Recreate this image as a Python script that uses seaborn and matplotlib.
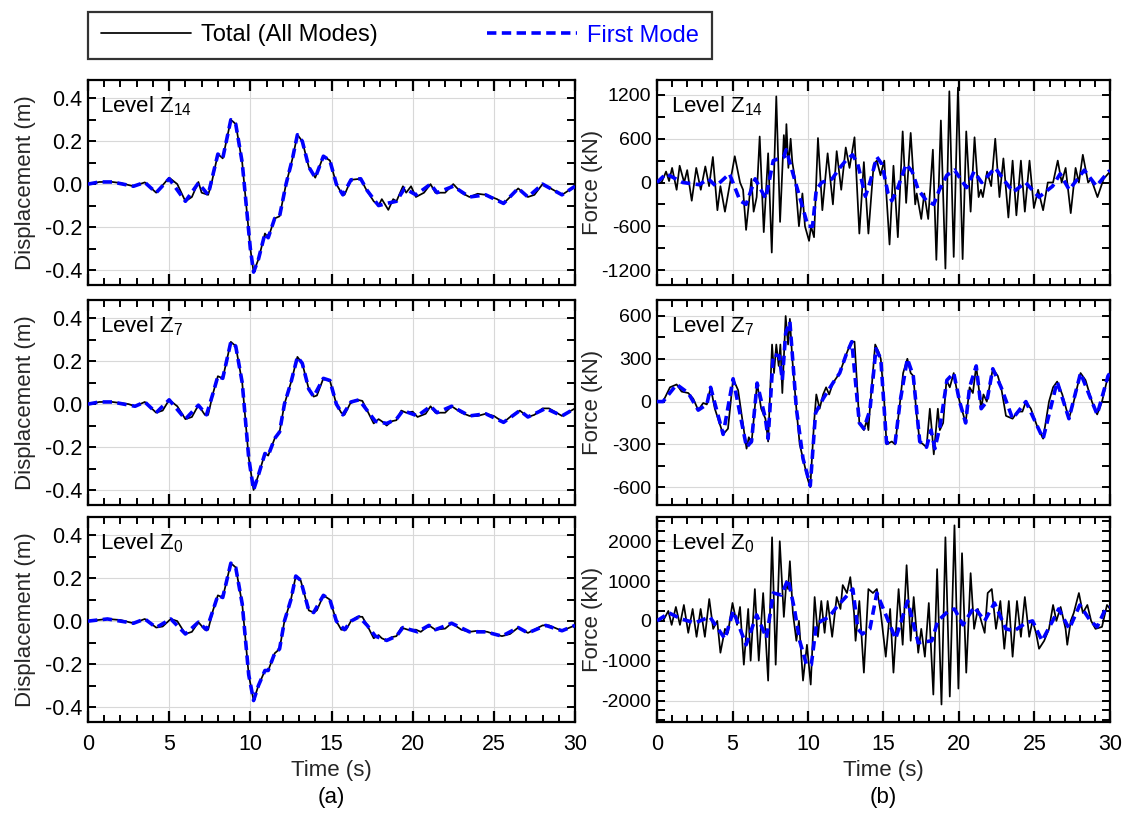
import numpy as np
import pandas as pd
import matplotlib
matplotlib.use("Agg")
import matplotlib.pyplot as plt
from matplotlib.ticker import MultipleLocator, FixedLocator
from matplotlib.lines import Line2D
import seaborn as sns

# ---------------- data: displacement (m) ----------------
t_d_z14 = [0, 0.7, 1.5, 2.0, 2.8, 3.5, 4.2, 5.0, 5.5, 6.0, 6.4, 6.8, 7.0, 7.4, 7.6, 8.0, 8.3, 8.8, 9.1, 9.5,
           10.0, 10.2, 10.5, 10.9, 11.1, 11.5, 11.8, 12.2, 12.6, 12.9, 13.2, 13.6, 14.0, 14.5, 14.9, 15.3,
           15.6, 15.8, 16.2, 16.8, 17.1, 17.6, 17.9, 18.1, 18.5, 18.8, 19.0, 19.4, 19.6, 19.9, 20.2, 20.7,
           21.1, 21.4, 22.0, 22.5, 23.0, 23.5, 24.0, 24.5, 25.2, 25.6, 26.0, 26.5, 27.1, 27.5, 28.0, 28.5,
           29.2, 30.0]
d_tot_z14 = [0, 0.01, 0.01, 0.005, -0.01, 0.008, -0.04, 0.03, 0.0, -0.08, -0.06, 0.01, -0.04, -0.05, 0.0,
             0.14, 0.12, 0.30, 0.28, 0.10, -0.30, -0.41, -0.35, -0.23, -0.25, -0.16, -0.15, 0.0, 0.12, 0.23,
             0.20, 0.08, 0.03, 0.13, 0.11, 0.0, -0.04, -0.05, 0.02, 0.025, -0.02, -0.08, -0.10, -0.07, -0.12,
             -0.07, -0.08, -0.01, -0.04, -0.01, -0.06, -0.04, 0.0, -0.04, -0.04, 0.0, -0.04, -0.06, -0.045,
             -0.05, -0.07, -0.09, -0.06, -0.02, -0.06, -0.05, 0.0, -0.02, -0.05, -0.01]
t_d1_z14 = [0, 0.7, 1.5, 2.8, 3.5, 4.2, 5.0, 6.0, 6.8, 7.4, 8.0, 8.3, 8.8, 9.1, 9.5, 10.0, 10.2, 10.5, 10.9,
            11.1, 11.5, 11.8, 12.2, 12.6, 12.9, 13.2, 13.6, 14.0, 14.5, 14.9, 15.3, 15.7, 16.2, 16.8, 17.2,
            17.9, 18.4, 19.0, 19.5, 20.2, 21.1, 21.5, 22.5, 23.5, 24.5, 25.6, 26.5, 27.1, 28.0, 29.2, 30.0]
d_1st_z14 = [0, 0.01, 0.01, -0.01, 0.008, -0.04, 0.025, -0.08, 0.005, -0.05, 0.14, 0.12, 0.30, 0.28, 0.10,
             -0.30, -0.41, -0.35, -0.23, -0.25, -0.16, -0.15, 0.0, 0.12, 0.23, 0.20, 0.08, 0.03, 0.13, 0.11,
             0.0, -0.05, 0.02, 0.025, -0.03, -0.10, -0.09, -0.08, -0.02, -0.05, 0.0, -0.04, -0.01, -0.06,
             -0.05, -0.09, -0.02, -0.06, 0.0, -0.05, -0.01]

t_d_z7 = [0, 0.7, 1.5, 2.5, 2.9, 3.5, 4.2, 4.6, 5.0, 5.5, 6.0, 6.4, 6.8, 7.2, 7.4, 7.7, 8.0, 8.3, 8.8, 9.1,
          9.5, 9.9, 10.2, 10.5, 10.9, 11.1, 11.5, 11.8, 12.1, 12.5, 12.9, 13.2, 13.6, 13.9, 14.1, 14.5, 14.9,
          15.3, 15.6, 15.8, 16.2, 16.6, 16.9, 17.2, 17.6, 17.9, 18.1, 18.4, 18.7, 19.0, 19.3, 19.6, 20.0,
          20.3, 20.8, 21.1, 21.4, 22.0, 22.4, 23.0, 23.5, 24.0, 24.5, 25.0, 25.6, 26.0, 26.6, 27.1, 27.5,
          28.0, 28.4, 29.2, 30.0]
d_tot_z7 = [0, 0.01, 0.01, 0.0, -0.01, 0.01, -0.04, -0.03, 0.02, -0.01, -0.07, -0.06, -0.005, -0.05, -0.05,
            0.05, 0.13, 0.12, 0.29, 0.27, 0.10, -0.25, -0.40, -0.33, -0.23, -0.24, -0.16, -0.13, 0.0, 0.10,
            0.22, 0.19, 0.07, 0.035, 0.04, 0.12, 0.11, 0.0, -0.04, -0.05, 0.01, 0.02, 0.015, -0.03, -0.09,
            -0.07, -0.08, -0.10, -0.08, -0.075, -0.03, -0.04, -0.035, -0.06, -0.045, -0.01, -0.04, -0.04,
            -0.01, -0.04, -0.055, -0.055, -0.045, -0.055, -0.085, -0.06, -0.03, -0.06, -0.05, -0.02, -0.02,
            -0.055, -0.02]
t_d1_z7 = [0, 0.7, 1.5, 2.9, 3.5, 4.2, 5.0, 6.0, 6.8, 7.3, 7.7, 8.0, 8.3, 8.8, 9.1, 9.5, 9.9, 10.2, 10.5,
           10.9, 11.1, 11.5, 11.8, 12.1, 12.5, 12.9, 13.2, 13.6, 13.9, 14.5, 14.9, 15.3, 15.7, 16.2, 16.7,
           17.2, 17.7, 18.4, 19.0, 19.4, 20.3, 21.1, 21.5, 22.4, 23.5, 24.5, 25.6, 26.6, 27.1, 28.2, 29.2,
           30.0]
d_1st_z7 = [0, 0.01, 0.01, -0.01, 0.01, -0.04, 0.02, -0.07, -0.005, -0.05, 0.05, 0.13, 0.12, 0.29, 0.27,
            0.10, -0.25, -0.40, -0.33, -0.23, -0.24, -0.16, -0.13, 0.0, 0.10, 0.22, 0.19, 0.07, 0.035, 0.12,
            0.11, 0.0, -0.05, 0.01, 0.02, -0.03, -0.08, -0.09, -0.07, -0.03, -0.055, -0.01, -0.04, -0.01,
            -0.055, -0.045, -0.085, -0.03, -0.06, -0.02, -0.055, -0.02]

t_d_z0 = [0, 1.2, 2.0, 2.8, 3.5, 4.2, 4.6, 5.1, 5.5, 6.0, 6.4, 6.8, 7.2, 7.4, 7.7, 8.0, 8.3, 8.8, 9.1, 9.5,
          9.9, 10.2, 10.5, 10.9, 11.1, 11.5, 11.8, 12.1, 12.5, 12.8, 13.1, 13.6, 13.9, 14.1, 14.5, 14.9,
          15.3, 15.6, 15.9, 16.2, 16.6, 16.9, 17.2, 17.6, 17.9, 18.1, 18.4, 18.7, 19.0, 19.3, 19.7, 20.2,
          20.5, 21.0, 21.4, 22.0, 22.4, 23.0, 23.5, 24.0, 24.6, 25.0, 25.5, 26.0, 26.5, 27.1, 27.5, 28.0,
          28.4, 29.2, 30.0]
d_tot_z0 = [0, 0.01, 0.005, -0.01, 0.01, -0.03, -0.025, 0.01, 0.0, -0.06, -0.05, -0.005, -0.04, -0.04,
            0.05, 0.12, 0.11, 0.27, 0.25, 0.08, -0.25, -0.37, -0.30, -0.23, -0.23, -0.15, -0.13, 0.0, 0.10,
            0.21, 0.19, 0.05, 0.04, 0.05, 0.12, 0.10, 0.0, -0.04, -0.04, 0.0, 0.02, 0.02, -0.02, -0.08,
            -0.065, -0.08, -0.09, -0.075, -0.07, -0.03, -0.04, -0.04, -0.05, -0.02, -0.04, -0.035, -0.01,
            -0.04, -0.05, -0.045, -0.05, -0.06, -0.07, -0.06, -0.03, -0.055, -0.04, -0.02, -0.02, -0.045,
            -0.02]
t_d1_z0 = [0, 1.2, 2.8, 3.5, 4.2, 5.1, 6.0, 6.8, 7.3, 7.7, 8.0, 8.3, 8.8, 9.1, 9.5, 9.9, 10.2, 10.5, 10.9,
           11.1, 11.5, 11.8, 12.1, 12.5, 12.8, 13.1, 13.6, 13.9, 14.5, 14.9, 15.3, 15.8, 16.2, 16.7, 17.2,
           17.7, 18.4, 19.0, 19.4, 20.3, 21.0, 21.4, 22.4, 23.5, 24.5, 25.5, 26.5, 27.1, 28.2, 29.2, 30.0]
d_1st_z0 = [0, 0.01, -0.01, 0.01, -0.03, 0.01, -0.06, -0.005, -0.04, 0.05, 0.12, 0.11, 0.27, 0.25, 0.08,
            -0.25, -0.37, -0.30, -0.23, -0.23, -0.15, -0.13, 0.0, 0.10, 0.21, 0.19, 0.05, 0.04, 0.12, 0.10,
            0.0, -0.04, 0.0, 0.02, -0.02, -0.07, -0.09, -0.07, -0.03, -0.05, -0.02, -0.04, -0.01, -0.05,
            -0.05, -0.07, -0.03, -0.055, -0.02, -0.045, -0.02]

# ---------------- data: storey force (kN) ----------------
t_f_z14 = [0, 0.3, 0.6, 0.8, 1.0, 1.3, 1.5, 1.8, 2.0, 2.3, 2.6, 2.9, 3.2, 3.45, 3.7, 4.0, 4.2, 4.5, 5.15,
           5.5, 5.7, 5.9, 6.25, 6.4, 6.6, 6.8, 7.07, 7.36, 7.6, 7.9, 8.15, 8.4, 8.5, 8.57, 8.7, 8.85, 8.96,
           9.16, 9.4, 9.63, 9.8, 10.07, 10.2, 10.4, 10.66, 10.95, 11.3, 11.65, 11.9, 12.2, 12.5, 12.75,
           13.08, 13.4, 13.7, 14.0, 14.35, 14.56, 14.8, 15.05, 15.4, 15.66, 15.95, 16.27, 16.5, 16.8, 17.1,
           17.2, 17.5, 17.7, 17.96, 18.27, 18.5, 18.8, 19.1, 19.36, 19.65, 19.93, 20.24, 20.48, 20.77,
           21.03, 21.3, 21.45, 21.58, 21.86, 22.13, 22.4, 22.68, 22.94, 23.27, 23.55, 23.8, 24.1, 24.36,
           24.67, 24.96, 25.24, 25.57, 25.88, 26.23, 26.54, 26.8, 27.06, 27.4, 27.72, 27.94, 28.2, 28.55,
           28.75, 29.17, 29.58, 30.0]
f_tot_z14 = [0, 0, 150, 20, 200, -100, 230, 0, 170, -250, 200, -100, 220, -50, 350, -380, -50, -400, 360,
             0, -100, -650, 50, -400, -200, 630, -680, 400, -960, 1180, -540, 650, 350, 800, 200, 600, 280,
             20, -600, -150, -600, -800, -600, -750, 610, -380, 400, -300, 430, -100, 480, 200, 620, -700,
             280, -700, 250, 300, 100, 300, -850, 230, -750, 700, -280, 680, -300, -150, -500, -150, -500,
             450, -1060, 850, -1180, 1250, -1020, 1300, -1050, 700, -400, 620, -200, -100, -200, 150, -50,
             600, -200, 330, -480, 300, -450, 300, -400, 300, -350, -100, -380, 0, 0, 300, 0, 200, -420,
             200, 0, 380, 0, 50, -200, 50, 150]
t_f1_z14 = [0, 0.6, 1.7, 2.8, 3.4, 3.9, 4.8, 5.5, 5.9, 6.5, 7.2, 7.7, 8.4, 8.55, 9.45, 10.0, 10.3, 10.55,
            10.9, 11.6, 12.1, 12.5, 12.95, 13.3, 13.8, 14.1, 14.56, 14.9, 15.3, 15.55, 15.9, 16.5, 16.9,
            17.3, 17.85, 18.33, 18.7, 19.2, 19.7, 20.1, 20.5, 21.0, 21.5, 22.4, 23.1, 23.6, 24.4, 25.3,
            26.2, 26.7, 27.3, 28.3, 29.1, 29.9, 30.0]
f_1st_z14 = [0, 120, 0, -30, 50, -50, 120, -250, -300, 50, -220, 300, 350, 450, -200, -600, -600, -100, 0,
             50, 200, 300, 380, 250, -190, 0, 350, 250, -150, -250, -100, 250, 150, -100, -250, -300, -100,
             100, 170, 50, -70, 150, 0, 200, 0, -130, 0, -200, -50, 120, -100, 170, -50, 150, 160]

t_f_z7 = [0, 0.4, 0.86, 1.3, 1.63, 2.07, 2.4, 2.73, 3.06, 3.3, 3.55, 3.83, 4.38, 4.7, 5.04, 5.37, 5.93,
          6.08, 6.26, 6.63, 6.9, 7.18, 7.36, 7.62, 7.75, 7.9, 8.06, 8.17, 8.3, 8.52, 8.68, 8.8, 8.96, 9.23,
          9.45, 9.67, 10.0, 10.15, 10.4, 10.55, 10.77, 11.0, 11.2, 11.4, 11.65, 12.1, 12.53, 12.86, 13.08,
          13.4, 13.7, 13.9, 14.0, 14.1, 14.45, 14.67, 14.82, 15.05, 15.2, 15.55, 15.77, 16.1, 16.3, 16.58,
          16.8, 16.97, 17.2, 17.4, 17.63, 17.85, 18.07, 18.2, 18.33, 18.6, 18.73, 18.95, 19.17, 19.39,
          19.65, 19.82, 20.04, 20.44, 20.7, 20.92, 21.14, 21.47, 21.62, 21.84, 22.24, 22.57, 22.79, 23.11,
          23.55, 23.88, 24.2, 24.43, 24.76, 25.2, 25.57, 25.96, 26.23, 26.5, 26.84, 27.28, 27.6, 28.05,
          28.38, 28.8, 29.15, 29.47, 29.87, 30.0]
f_tot_z7 = [0, 0, 100, 120, 70, 60, 20, -60, -10, -20, 100, -50, -230, -190, 160, 80, -330, -250, -290,
            130, -50, -120, -280, 400, 200, 400, 250, 400, 60, 600, 400, 580, 300, -50, -300, -400, -550,
            -600, -150, 50, -50, 50, 100, 50, 130, 200, 330, 420, 420, -150, -200, -130, -200, -50, 400, 350,
            300, 0, -300, -280, -300, 0, 200, 300, 200, 180, -100, -280, -300, -320, -50, -200, -370, -50,
            -200, -150, 150, 100, 200, 100, 0, -150, 100, 60, 250, -50, 50, 0, 230, 180, 100, -100, -120,
            -70, -70, 0, -50, -180, -260, 0, 100, 140, 50, -120, 0, 200, 150, 0, -90, 0, 180, 200]
t_f1_z7 = [0, 0.4, 1.3, 2.07, 2.73, 3.3, 3.55, 4.38, 5.04, 5.93, 6.26, 6.63, 7.18, 7.36, 7.7, 8.1, 8.3,
           8.52, 8.8, 9.23, 9.67, 10.15, 10.5, 11.0, 11.65, 12.1, 12.53, 12.9, 13.4, 13.7, 14.1, 14.5, 14.82,
           15.2, 15.77, 16.1, 16.58, 16.97, 17.4, 17.85, 18.15, 18.4, 18.75, 19.2, 19.65, 20.04, 20.44,
           20.7, 21.14, 21.47, 21.84, 22.24, 22.79, 23.55, 24.43, 25.57, 26.5, 27.28, 28.05, 28.8, 29.15,
           29.87, 30.0]
f_1st_z7 = [0, 0, 120, 60, -60, -20, 100, -230, 160, -320, -280, 130, -120, -260, 330, 320, 150, 480, 560,
            -50, -400, -590, -80, 20, 130, 200, 330, 420, -150, -190, -60, 370, 300, -290, -290, 0, 300, 180,
            -280, -320, -200, -330, -170, 150, 200, 0, -150, 100, 250, -50, 0, 230, 100, -120, 0, -260, 140,
            -120, 200, 0, -90, 180, 200]

t_f_z0 = [0, 0.4, 0.75, 0.97, 1.25, 1.52, 1.78, 2.07, 2.36, 2.62, 2.89, 3.17, 3.46, 3.72, 3.99, 4.2, 4.5,
          4.7, 5.0, 5.3, 5.5, 5.75, 6.04, 6.2, 6.48, 6.74, 7.03, 7.36, 7.62, 7.86, 8.13, 8.4, 8.57, 8.68,
          8.8, 9.0, 9.23, 9.4, 9.67, 9.93, 10.18, 10.44, 10.66, 10.88, 11.1, 11.3, 11.6, 11.9, 12.15, 12.3,
          12.58, 12.8, 13.05, 13.15, 13.4, 13.7, 14.0, 14.3, 14.56, 14.82, 15.15, 15.44, 15.66, 16.0,
          16.27, 16.53, 16.8, 17.0, 17.3, 17.5, 17.74, 18.0, 18.3, 18.55, 18.84, 19.1, 19.39, 19.7, 19.96,
          20.2, 20.48, 20.77, 21.0, 21.25, 21.47, 21.7, 21.9, 22.17, 22.45, 22.74, 23.0, 23.3, 23.55, 23.84,
          24.1, 24.36, 24.65, 24.87, 25.1, 25.3, 25.64, 25.96, 26.23, 26.45, 26.73, 27.06, 27.17, 27.4,
          27.6, 27.94, 28.2, 28.5, 28.75, 29.04, 29.47, 29.8, 30.0]
f_tot_z0 = [0, 0, 250, -100, 350, -100, 400, -300, 300, -400, 300, -400, 550, -200, 0, -800, -200, -300,
            450, -100, 350, -1100, 300, -1000, 800, -1000, 700, -1500, 2100, -1100, 2000, 100, 1000, 800,
            1500, 200, -500, 0, -1500, -600, -1600, 600, -400, 500, -300, 500, -400, 600, 300, 900, 700,
            1100, 200, -500, 500, -1300, 800, 700, 800, 200, -900, 300, -1300, 800, -600, 1400, -500, 600,
            -800, -200, -900, 450, -1850, 1300, -2100, 2100, -1900, 2400, -1700, 1700, -1300, 1200, -200,
            300, 0, -300, 700, 800, -200, 500, -700, 500, -900, 500, -400, 600, -400, 0, -300, -700, -500,
            -200, 400, 0, 350, -200, -600, 0, 200, 700, 200, 400, 0, -200, -150, 400, 300]
t_f1_z0 = [0, 0.8, 1.6, 2.5, 3.5, 4.5, 5.05, 5.9, 6.6, 7.25, 7.7, 8.24, 8.68, 9.1, 9.45, 9.9, 10.22, 10.55,
           10.88, 11.4, 11.9, 12.5, 12.97, 13.3, 13.6, 14.1, 14.56, 15.1, 15.8, 16.6, 17.3, 18.2, 18.6,
           19.3, 19.7, 20.26, 21.0, 21.7, 22.35, 23.1, 23.66, 24.43, 24.87, 25.5, 26.2, 26.6, 27.3, 28.0,
           28.7, 29.15, 29.7, 30.0]
f_1st_z0 = [0, 200, 50, -50, 100, -450, 250, -600, 150, -430, 700, 650, 1050, 300, -500, -1100, -1100, -100,
            0, 100, 350, 600, 800, -200, -330, -200, 700, 200, -450, 500, -550, -500, 0, 250, 300, -100,
            350, 0, 450, -200, -250, -50, 0, -500, 0, 300, -200, 400, 0, -150, 300, 350]

levels = ["14", "7", "0"]
disp_series = [(t_d_z14, d_tot_z14, t_d1_z14, d_1st_z14),
               (t_d_z7, d_tot_z7, t_d1_z7, d_1st_z7),
               (t_d_z0, d_tot_z0, t_d1_z0, d_1st_z0)]
force_series = [(t_f_z14, f_tot_z14, t_f1_z14, f_1st_z14),
                (t_f_z7, f_tot_z7, t_f1_z7, f_1st_z7),
                (t_f_z0, f_tot_z0, t_f1_z0, f_1st_z0)]
disp_ticks = [0.4, 0.2, 0.0, -0.2, -0.4]
force_ticks = [[1200, 600, 0, -600, -1200], [600, 300, 0, -300, -600], [2000, 1000, 0, -1000, -2000]]
force_minor = [300, 150, 250]
force_ylim = [(-1405, 1405), (-725, 712), (-2540, 2610)]
time_ticks = [0, 5, 10, 15, 20, 25, 30]

# ---------------- style ----------------
sns.set_theme(style="ticks")
plt.rcParams["font.family"] = ["Liberation Sans", "DejaVu Sans"]
plt.rcParams["mathtext.fontset"] = "custom"
plt.rcParams["mathtext.rm"] = "Liberation Sans"
plt.rcParams["axes.unicode_minus"] = False
plt.rcParams["text.color"] = "black"
plt.rcParams["xtick.color"] = "black"
plt.rcParams["ytick.color"] = "black"

FS_TICK = 15.5
FS_TICK_FORCE = 14
FS_LABEL = 16
FS_LEG = 17
BLACK_LW = 1.25
BLUE_LW = 2.6
BLUE_DASH = [2.6, 1.5]
BLUE = "#0000ff"

fig = plt.figure(figsize=(11.29, 8.14), dpi=100)
W, H = 1129, 814


def px_axes(x0, y0, x1, y1):
    return fig.add_axes([x0 / W, 1 - y1 / H, (x1 - x0) / W, (y1 - y0) / H])


rows = [(80, 285), (300, 505), (517, 722)]
left_x = (88, 575)
right_x = (657, 1110)


def style_axes(ax, bottom, ytick_size):
    for s in ax.spines.values():
        s.set_linewidth(1.6)
        s.set_color("black")
    ax.set_xlim(0, 30)
    ax.xaxis.set_major_locator(FixedLocator(time_ticks))
    ax.xaxis.set_minor_locator(MultipleLocator(1))
    ax.tick_params(axis="x", which="major", direction="in", length=8, width=1.6,
                   top=True, bottom=True, labelsize=FS_TICK, pad=9)
    ax.tick_params(axis="x", which="minor", direction="in", length=5, width=1.4, top=True, bottom=True)
    ax.tick_params(axis="y", which="both", direction="in", length=6, width=1.4,
                   left=True, right=True, labelsize=ytick_size, pad=4)
    ax.grid(True, which="major", color="#d8d8d8", linewidth=0.8)
    ax.set_axisbelow(True)
    if bottom:
        ax.set_xlabel("Time (s)", fontsize=FS_LABEL, labelpad=3)
    else:
        ax.set_xticklabels([])
        ax.set_xlabel("")


def draw(ax, t_tot, v_tot, t_1, v_1):
    df_tot = pd.DataFrame({"t": t_tot, "v": v_tot})
    df_1 = pd.DataFrame({"t": t_1, "v": v_1})
    sns.lineplot(data=df_tot, x="t", y="v", ax=ax, color="black", linewidth=BLACK_LW,
                 estimator=None, sort=False, zorder=3)
    sns.lineplot(data=df_1, x="t", y="v", ax=ax, color=BLUE, linewidth=BLUE_LW,
                 estimator=None, sort=False, zorder=4)
    ax.lines[-1].set_dashes(BLUE_DASH)


for i, (y0, y1) in enumerate(rows):
    bottom = i == 2
    # displacement column
    ax = px_axes(left_x[0], y0, left_x[1], y1)
    draw(ax, *disp_series[i])
    style_axes(ax, bottom, FS_TICK)
    ax.set_ylim(-0.47, 0.485)
    ax.yaxis.set_major_locator(FixedLocator(disp_ticks))
    ax.yaxis.set_minor_locator(MultipleLocator(0.1))
    ax.set_yticklabels([f"{v:.1f}" for v in disp_ticks])
    ax.set_ylabel("Displacement (m)", fontsize=FS_LABEL)
    ax.yaxis.set_label_coords((36 - left_x[0]) / (left_x[1] - left_x[0]), 0.5)
    ax.text(0.025, 0.93, r"Level Z$_{" + levels[i] + "}$", transform=ax.transAxes,
            fontsize=FS_LABEL, va="top", ha="left", zorder=6)

    # force column
    ax = px_axes(right_x[0], y0, right_x[1], y1)
    draw(ax, *force_series[i])
    style_axes(ax, bottom, FS_TICK_FORCE)
    ax.set_ylim(*force_ylim[i])
    ax.yaxis.set_major_locator(FixedLocator(force_ticks[i]))
    ax.yaxis.set_minor_locator(MultipleLocator(force_minor[i]))
    ax.set_yticklabels([str(v) for v in force_ticks[i]])
    ax.set_ylabel("Force (kN)", fontsize=FS_LABEL)
    ax.yaxis.set_label_coords((603 - right_x[0]) / (right_x[1] - right_x[0]), 0.5)
    ax.text(0.03, 0.93, r"Level Z$_{" + levels[i] + "}$", transform=ax.transAxes,
            fontsize=FS_LABEL, va="top", ha="left", zorder=6)

# panel captions
fig.text((left_x[0] + left_x[1]) / 2 / W, 1 - 797 / H, "(a)", ha="center", va="center", fontsize=FS_LABEL)
fig.text((right_x[0] + right_x[1]) / 2 / W, 1 - 797 / H, "(b)", ha="center", va="center", fontsize=FS_LABEL)

# shared legend box
handles = [Line2D([], [], color="black", linewidth=BLACK_LW),
           Line2D([], [], color=BLUE, linewidth=BLUE_LW, dashes=BLUE_DASH)]
leg = fig.legend(handles, ["Total (All Modes)", "First Mode"], loc="center",
                 bbox_to_anchor=(88 / W, 1 - 62 / H, 624 / W, 53 / H), mode="expand", ncol=2,
                 frameon=True, fancybox=False, edgecolor="black", fontsize=FS_LEG,
                 handlelength=3.8, handletextpad=0.45, borderaxespad=0, borderpad=0.55,
                 columnspacing=3.0)
leg.get_frame().set_linewidth(1.6)
leg.get_texts()[1].set_color(BLUE)

fig.savefig("out.png", dpi=100)
